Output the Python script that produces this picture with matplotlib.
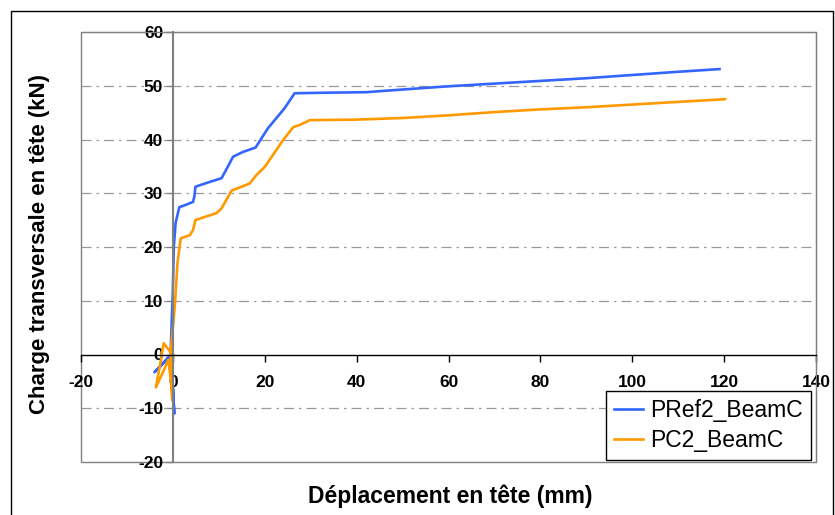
import matplotlib
matplotlib.use("Agg")
import matplotlib.pyplot as plt
from matplotlib.patches import Rectangle

plt.rcParams['font.family'] = ['Liberation Sans', 'DejaVu Sans']
plt.rcParams['axes.unicode_minus'] = False

# PRef2_BeamC
pref_x = [0, -2.0, -4.0, -3.0, -1.0, 0.0, 0.3, -0.2, -0.5, 0.0, 0.2, 0.6, 1.4, 3.0, 4.4, 4.7, 4.9, 5.9, 8.0,
          10.6, 12.0, 13.1, 15.3, 18.0, 20.7, 24.3, 26.5, 32.6, 42.0, 50.0, 60.0, 70.0, 80.0, 90.0, 100.0,
          110.0, 119.0]
pref_y = [0, -1.5, -3.3, -2.5, -0.5, -6.0, -11.0, -3.0, 0.0, 12.0, 20.0, 24.5, 27.4, 27.9, 28.4, 29.5, 31.2,
          31.5, 32.1, 32.8, 35.0, 36.8, 37.7, 38.5, 42.1, 45.8, 48.6, 48.7, 48.8, 49.3, 49.9, 50.4, 50.9,
          51.4, 52.0, 52.6, 53.1]

# PC2_BeamC
pc2_x = [0, -1.0, -2.0, -2.8, -3.7, -2.0, -1.0, -0.4, -0.1, -0.5, 0.0, 0.5, 1.0, 1.7, 3.0, 3.7, 4.4, 4.9,
         6.6, 9.5, 10.6, 12.8, 16.7, 18.2, 20.0, 24.0, 26.2, 27.6, 29.8, 40.0, 50.0, 60.0, 70.0, 80.0, 90.0,
         100.0, 110.0, 120.2]
pc2_y = [0, 1.0, 2.1, -2.0, -6.1, -3.0, -1.0, -5.0, -8.5, 0.0, 5.0, 10.0, 17.0, 21.6, 22.0, 22.2, 23.2,
         25.0, 25.5, 26.3, 27.2, 30.5, 31.8, 33.4, 34.9, 39.9, 42.3, 42.7, 43.6, 43.7, 44.0, 44.5, 45.1,
         45.6, 46.0, 46.5, 47.0, 47.5]

xticks = [-20, 0, 20, 40, 60, 80, 100, 120, 140]
yticks = [-20, -10, 0, 10, 20, 30, 40, 50, 60]

fig = plt.figure(figsize=(8.35, 5.15), dpi=100)
ax = fig.add_axes([81/835, 53/515, 735/835, 430/515])

# outer chart border
fig.patches.append(Rectangle((11/835, -0.02), 822/835, (515-11)/515 + 0.02,
                             transform=fig.transFigure, fill=False, edgecolor='black', lw=1.0))

ax.plot(pref_x, pref_y, color='#3366FF', lw=1.9, label='PRef2_BeamC', solid_joinstyle='round')
ax.plot(pc2_x, pc2_y, color='#FF9900', lw=1.9, label='PC2_BeamC', solid_joinstyle='round')

ax.set_xlim(-20, 140)
ax.set_ylim(-20, 60)
ax.set_xticks(xticks)
ax.set_yticks(yticks)

for y in yticks[1:-1]:
    if y != 0:
        ax.axhline(y, color='#999999', lw=0.9, linestyle=(0, (8, 4, 2, 4)), zorder=0)

ax.spines['left'].set_position(('data', 0))
ax.spines['bottom'].set_position(('data', 0))
ax.spines['left'].set_color('#808080')
ax.spines['left'].set_linewidth(1.5)
ax.spines['bottom'].set_color('black')
ax.spines['bottom'].set_linewidth(1.0)
ax.spines['top'].set_color('#808080')
ax.spines['right'].set_color('#808080')
ax.add_patch(Rectangle((0, 0), 1, 1, transform=ax.transAxes, fill=False,
                       edgecolor='#808080', lw=1.0, clip_on=False, zorder=0))

ax.tick_params(axis='y', direction='out', length=5, width=1, color='#808080', pad=2, labelsize=12.5)
ax.tick_params(axis='x', direction='out', length=5, width=1, color='black', pad=10, labelsize=12.5)
for lab in ax.get_xticklabels() + ax.get_yticklabels():
    lab.set_fontweight('bold')

fig.text(40/835, 1 - 244/515, 'Charge transversale en tête (kN)', rotation=90, ha='center', va='center',
         fontsize=16, fontweight='bold')
fig.text(450/835, 1 - 496/515, 'Déplacement en tête (mm)', ha='center', va='center',
         fontsize=16.5, fontweight='bold')

leg = ax.legend(loc='lower right', bbox_to_anchor=(0.993, 0.005), borderaxespad=0, fontsize=16.5,
                fancybox=False, framealpha=1, edgecolor='black', handlelength=1.3, handletextpad=0.3,
                borderpad=0.35, labelspacing=0.3)
leg.get_frame().set_linewidth(1.0)

fig.savefig('out.png', dpi=100)
